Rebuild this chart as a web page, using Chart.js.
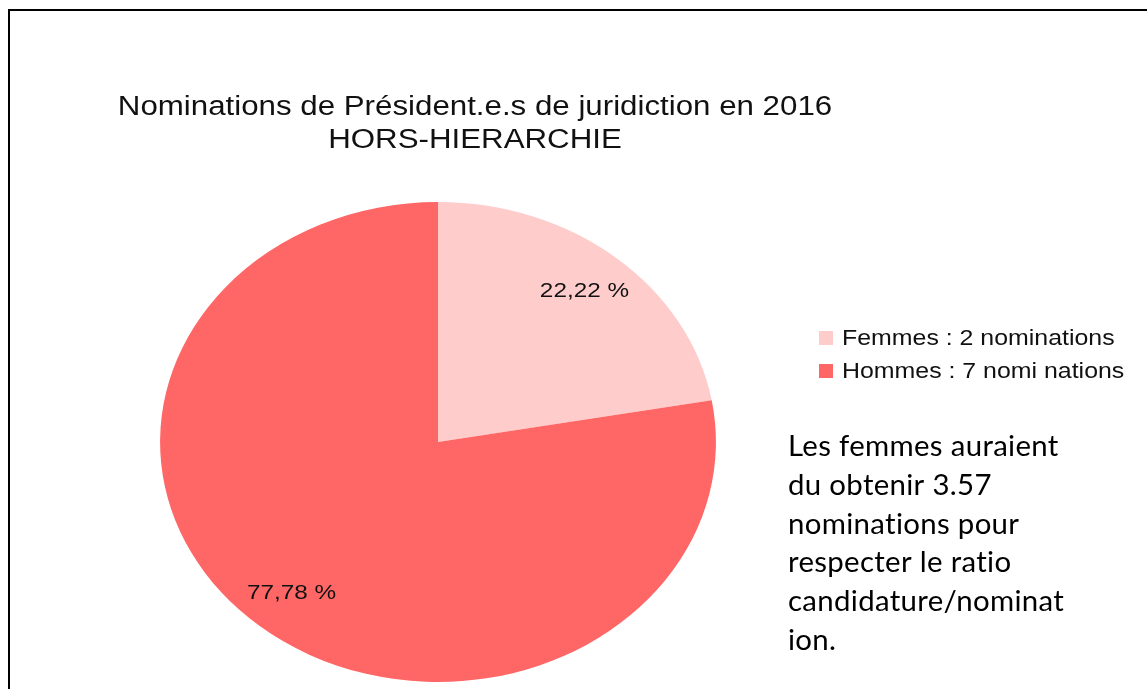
<!DOCTYPE html>
<html>
<head>
<meta charset="utf-8">
<script src="https://cdn.jsdelivr.net/npm/chart.js@4"></script>
<style>
  html, body { margin: 0; padding: 0; background: #fff; }
  #frame {
    position: absolute; left: 8px; top: 9px; width: 1200px; height: 760px;
    border-left: 2px solid #000; border-top: 2px solid #000;
  }
  canvas { position: absolute; left: 0; top: 0; }
</style>
</head>
<body>
<div id="frame"></div>
<canvas id="myChart" width="1147" height="689"></canvas>
<script>
const categories = ['Femmes : 2 nominations', 'Hommes : 7 nomi nations'];
const nominations = [2, 7];
const sliceColors = ['#FFCCCC', '#FF6666'];
const titleLines = ['Nominations de Président.e.s de juridiction en 2016', 'HORS-HIERARCHIE'];
const noteLines = ['Les femmes auraient', 'du obtenir 3.57', 'nominations pour', 'respecter le ratio', 'candidature/nominat', 'ion.'];

// the source picture is stretched sideways, pie and chart text alike
const stretch = 1.158;

function stretchedText(ctx, text, x, y, align, sx) {
    ctx.save();
    ctx.translate(x, y);
    ctx.scale(sx || stretch, 1);
    ctx.textAlign = align;
    ctx.fillText(text, 0, 0);
    ctx.restore();
}

const ellipsePlugin = {
    id: 'ellipse',
    beforeDatasetsDraw(chart) {
        const arc = chart.getDatasetMeta(0).data[0];
        const ctx = chart.ctx;
        ctx.save();
        ctx.translate(arc.x, arc.y);
        ctx.scale(stretch, 1);
        ctx.translate(-arc.x, -arc.y);
    },
    afterDatasetsDraw(chart) {
        chart.ctx.restore();
    }
};

const decorPlugin = {
    id: 'decor',
    afterDraw(chart) {
        const ctx = chart.ctx;
        const ds = chart.data.datasets[0];
        const total = ds.data.reduce((a, b) => a + b, 0);
        ctx.save();
        ctx.fillStyle = '#111';
        ctx.textBaseline = 'alphabetic';

        // title
        ctx.font = '27px "Liberation Sans", Arial, sans-serif';
        stretchedText(ctx, titleLines[0], 475, 115, 'center');
        stretchedText(ctx, titleLines[1], 475, 148, 'center');

        // percentage labels
        ctx.font = '21px "Liberation Sans", Arial, sans-serif';
        chart.getDatasetMeta(0).data.forEach((arc, i) => {
            const mid = (arc.startAngle + arc.endAngle) / 2;
            const r = arc.outerRadius * 0.82;
            const x = arc.x + Math.cos(mid) * r * stretch;
            const y = arc.y + Math.sin(mid) * r;
            const pct = (ds.data[i] / total * 100).toFixed(2).replace('.', ',') + ' %';
            ctx.textBaseline = 'middle';
            stretchedText(ctx, pct, x, y, 'center');
        });

        // legend
        ctx.textBaseline = 'alphabetic';
        ctx.font = '21.5px "Liberation Sans", Arial, sans-serif';
        chart.data.labels.forEach((lab, i) => {
            const y = 345 + i * 33;
            ctx.fillStyle = ds.backgroundColor[i];
            ctx.fillRect(819, y - 14, 14, 14);
            ctx.fillStyle = '#111';
            stretchedText(ctx, lab, 842, y, 'left');
        });

        // note (letterSpacing also stops the "ti" ligature)
        ctx.font = '28px Lato, "Open Sans", sans-serif';
        ctx.letterSpacing = '0.3px';
        ctx.fillStyle = '#000';
        noteLines.forEach((line, i) => {
            stretchedText(ctx, line, 788, 456 + i * 38.8, 'left', 1.05);
        });
        ctx.restore();
    }
};

const ctx = document.getElementById('myChart').getContext('2d');
let myChart = new Chart(ctx, {
    type: 'pie',
    data: {
        labels: categories,
        datasets: [{
            data: nominations,
            backgroundColor: sliceColors,
            borderWidth: 0
        }]
    },
    options: {
        responsive: false,
        animation: false,
        layout: {
            padding: { left: 198, right: 469, top: 202, bottom: 7 }
        },
        plugins: {
            legend: { display: false },
            title: { display: false },
            tooltip: { enabled: false }
        }
    },
    plugins: [ellipsePlugin, decorPlugin]
});
</script>
</body>
</html>
